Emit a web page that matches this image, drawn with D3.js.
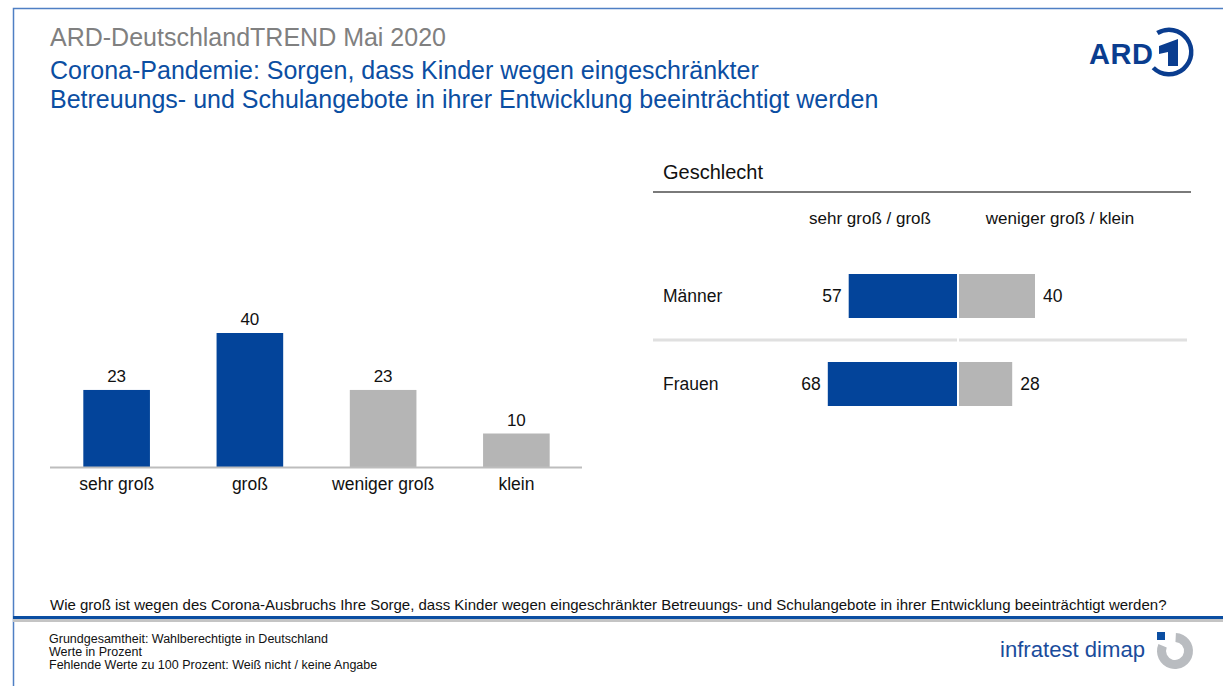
<!DOCTYPE html>
<html>
<head>
<meta charset="utf-8">
<script src="https://cdn.jsdelivr.net/npm/d3@7"></script>
<style>
  html, body { margin: 0; padding: 0; background: #fff; }
  svg { display: block; font-family: "Liberation Sans", Arial, sans-serif; }
</style>
</head>
<body>
<svg id="chart" width="1223" height="686"></svg>
<script>
// Gesamtverteilung der Antworten (Prozent)
const categories = ["sehr groß", "groß", "weniger groß", "klein"];
const totalValues = [23, 40, 23, 10];

// Aufschlüsselung nach Geschlecht
const groups = ["Männer", "Frauen"];
const concernHigh = [57, 68];   // sehr groß / groß
const concernLow = [40, 28];    // weniger groß / klein
const columnHeaders = ["sehr groß / groß", "weniger groß / klein"];

const BLUE = "#03449a";
const GREY = "#b5b5b5";
const TITLE_BLUE = "#0b4ea2";

const svg = d3.select("#chart");

// Rahmen
svg.append("path")
  .attr("d", "M13.5,686 V8.5 H1223")
  .attr("fill", "none").attr("stroke", "#4f7fc4").attr("stroke-width", 1.5);

// Kopfzeilen
svg.append("text").attr("x", 50).attr("y", 46)
  .attr("font-size", 25).attr("fill", "#808080")
  .text("ARD-DeutschlandTREND Mai 2020");
svg.append("text").attr("x", 50).attr("y", 79)
  .attr("font-size", 25).attr("fill", TITLE_BLUE)
  .text("Corona-Pandemie: Sorgen, dass Kinder wegen eingeschränkter");
svg.append("text").attr("x", 50).attr("y", 108)
  .attr("font-size", 25).attr("fill", TITLE_BLUE)
  .text("Betreuungs- und Schulangebote in ihrer Entwicklung beeinträchtigt werden");

// ARD-Logo
const logo = svg.append("g");
logo.append("text").attr("x", 1089).attr("y", 64)
  .attr("font-size", 29).attr("font-weight", "bold").attr("fill", "#0a3d8f")
  .attr("letter-spacing", 0.5)
  .text("ARD");
logo.append("path")
  .attr("transform", "translate(1169,52)")
  .attr("d", d3.arc().innerRadius(20).outerRadius(24.5).startAngle(-0.55).endAngle(Math.PI * 1.25)())
  .attr("fill", "#0a3d8f");
logo.append("path")
  .attr("transform", "translate(1169,52)")
  .attr("d", "M-10,-6 L9,-13 L9,14 L-1,14 L-1,0 L-10,2 Z")
  .attr("fill", "#0a3d8f");

// Linkes Diagramm: Gesamtverteilung
const x = d3.scaleBand().domain(categories).range([50, 583]).paddingInner(0.5).paddingOuter(0.25);
const y = d3.scaleLinear().domain([0, 40]).range([467, 333]);
const colorFor = d3.scaleOrdinal().domain(categories).range([BLUE, BLUE, GREY, GREY]);

const left = svg.append("g");
left.selectAll("rect").data(categories).join("rect")
  .attr("x", d => x(d))
  .attr("y", (d, i) => y(totalValues[i]))
  .attr("width", x.bandwidth())
  .attr("height", (d, i) => y(0) - y(totalValues[i]))
  .attr("fill", d => colorFor(d));
left.selectAll("text.val").data(categories).join("text")
  .attr("class", "val")
  .attr("x", d => x(d) + x.bandwidth() / 2)
  .attr("y", (d, i) => y(totalValues[i]) - 8)
  .attr("text-anchor", "middle").attr("font-size", 17).attr("fill", "#111")
  .text((d, i) => totalValues[i]);

const xAxis = left.append("g").attr("transform", `translate(0,${y(0) + 0.5})`)
  .call(d3.axisBottom(x).tickSize(0).tickPadding(10));
xAxis.select(".domain").attr("stroke", "#bdbdbd").attr("stroke-width", 2)
  .attr("d", "M50,0H582");
xAxis.selectAll("text").attr("font-size", 17.5).attr("fill", "#111")
  .attr("font-family", "Liberation Sans, Arial, sans-serif");

// Rechtes Diagramm: nach Geschlecht
const right = svg.append("g");
right.append("text").attr("x", 663).attr("y", 179)
  .attr("font-size", 20).attr("fill", "#111").text("Geschlecht");
right.append("line").attr("x1", 653).attr("x2", 1191).attr("y1", 192).attr("y2", 192)
  .attr("stroke", "#7a7a7a").attr("stroke-width", 2);

const xHigh = d3.scaleLinear().domain([0, 100]).range([957, 767]);
const xLow = d3.scaleLinear().domain([0, 100]).range([959, 1149]);
const row = d3.scaleBand().domain(groups).range([252, 428]).paddingInner(0.5).paddingOuter(0.25);

right.append("text").attr("x", 870).attr("y", 224).attr("text-anchor", "middle")
  .attr("font-size", 17).attr("fill", "#111").text(columnHeaders[0]);
right.append("text").attr("x", 1060).attr("y", 224).attr("text-anchor", "middle")
  .attr("font-size", 17).attr("fill", "#111").text(columnHeaders[1]);

// Trennlinie zwischen den Zeilen
const sepY = (row(groups[0]) + row.bandwidth() + row(groups[1])) / 2;
right.append("line").attr("x1", 653).attr("x2", 957).attr("y1", sepY).attr("y2", sepY)
  .attr("stroke", "#e0e0e0").attr("stroke-width", 3);
right.append("line").attr("x1", 959).attr("x2", 1187).attr("y1", sepY).attr("y2", sepY)
  .attr("stroke", "#e0e0e0").attr("stroke-width", 3);

right.selectAll("text.grp").data(groups).join("text")
  .attr("class", "grp")
  .attr("x", 663).attr("y", d => row(d) + row.bandwidth() / 2 + 6)
  .attr("font-size", 17.5).attr("fill", "#111").text(d => d);

right.selectAll("rect.high").data(groups).join("rect")
  .attr("class", "high")
  .attr("x", (d, i) => xHigh(concernHigh[i]))
  .attr("y", d => row(d))
  .attr("width", (d, i) => xHigh(0) - xHigh(concernHigh[i]))
  .attr("height", row.bandwidth())
  .attr("fill", BLUE);
right.selectAll("rect.low").data(groups).join("rect")
  .attr("class", "low")
  .attr("x", xLow(0))
  .attr("y", d => row(d))
  .attr("width", (d, i) => xLow(concernLow[i]) - xLow(0))
  .attr("height", row.bandwidth())
  .attr("fill", GREY);

right.selectAll("text.hv").data(groups).join("text")
  .attr("class", "hv")
  .attr("x", (d, i) => xHigh(concernHigh[i]) - 7)
  .attr("y", d => row(d) + row.bandwidth() / 2 + 6)
  .attr("text-anchor", "end").attr("font-size", 17.5).attr("fill", "#111")
  .text((d, i) => concernHigh[i]);
right.selectAll("text.lv").data(groups).join("text")
  .attr("class", "lv")
  .attr("x", (d, i) => xLow(concernLow[i]) + 8)
  .attr("y", d => row(d) + row.bandwidth() / 2 + 6)
  .attr("font-size", 17.5).attr("fill", "#111")
  .text((d, i) => concernLow[i]);

// Fragetext
svg.append("text").attr("x", 50).attr("y", 610)
  .attr("font-size", 15).attr("fill", "#111")
  .text("Wie groß ist wegen des Corona-Ausbruchs Ihre Sorge, dass Kinder wegen eingeschränkter Betreuungs- und Schulangebote in ihrer Entwicklung beeinträchtigt werden?");

// Fußleiste
svg.append("rect").attr("x", 13).attr("y", 616).attr("width", 1210).attr("height", 3).attr("fill", "#0b4ea2");
svg.append("rect").attr("x", 13).attr("y", 619).attr("width", 1210).attr("height", 3).attr("fill", "#c4c4c4");

const notes = [
  "Grundgesamtheit: Wahlberechtigte in Deutschland",
  "Werte in Prozent",
  "Fehlende Werte zu 100 Prozent: Weiß nicht / keine Angabe"
];
svg.selectAll("text.note").data(notes).join("text")
  .attr("class", "note")
  .attr("x", 49).attr("y", (d, i) => 643 + i * 13)
  .attr("font-size", 12.5).attr("fill", "#111").text(d => d);

// infratest dimap Logo
svg.append("text").attr("x", 1000).attr("y", 657)
  .attr("font-size", 22).attr("fill", "#1a4c9c")
  .attr("font-family", "Liberation Sans Narrow, Arial Narrow, Liberation Sans, sans-serif")
  .attr("textLength", 145).attr("lengthAdjust", "spacingAndGlyphs")
  .text("infratest dimap");
svg.append("rect").attr("x", 1157).attr("y", 632).attr("width", 8).attr("height", 8).attr("fill", "#0b4ea2");
svg.append("path")
  .attr("transform", "translate(1175,651)")
  .attr("d", d3.arc().innerRadius(9).outerRadius(18).startAngle(0.05).endAngle(Math.PI * 1.5 + 0.4)())
  .attr("fill", "#b9bcc0");
</script>
</body>
</html>
